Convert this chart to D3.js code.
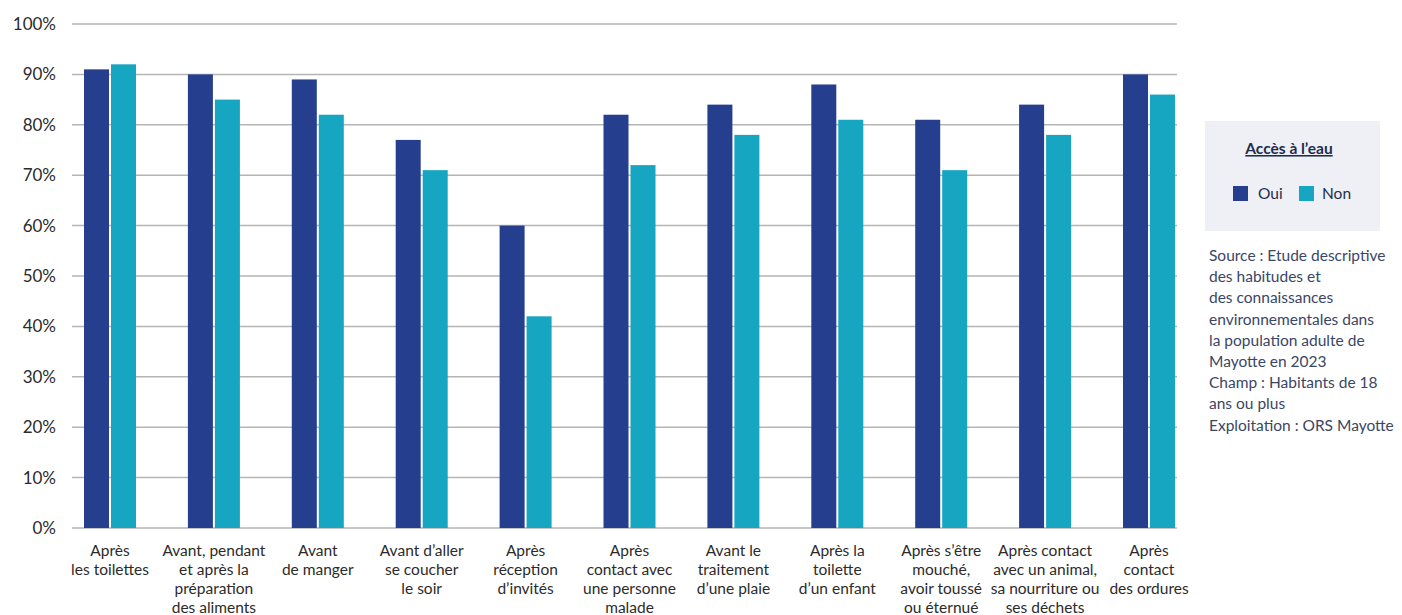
<!DOCTYPE html>
<html>
<head>
<meta charset="utf-8">
<script src="https://cdn.jsdelivr.net/npm/d3@7"></script>
<style>
	body { margin: 0; background: #fff; }
	svg { display: block; font-family: Lato, "Noto Sans", sans-serif; }
</style>
</head>
<body>
<svg width="1402" height="615"></svg>
<script>
// data.........................................................................

var categories = [
	["Après", "les toilettes"],
	["Avant, pendant", "et après la", "préparation", "des aliments"],
	["Avant", "de manger"],
	["Avant d’aller", "se coucher", "le soir"],
	["Après", "réception", "d’invités"],
	["Après", "contact avec", "une personne", "malade"],
	["Avant le", "traitement", "d’une plaie"],
	["Après la", "toilette", "d’un enfant"],
	["Après s’être", "mouché,", "avoir toussé", "ou éternué"],
	["Après contact", "avec un animal,", "sa nourriture ou", "ses déchets"],
	["Après", "contact", "des ordures"]
];
var oui = [91, 90, 89, 77, 60, 82, 84, 88, 81, 84, 90];
var non = [92, 85, 82, 71, 42, 72, 78, 81, 71, 78, 86];
var seriesNames = ["Oui", "Non"];
var yTicks = [0, 10, 20, 30, 40, 50, 60, 70, 80, 90, 100];
var sourceLines = [
	"Source : Etude descriptive",
	"des habitudes et",
	"des connaissances",
	"environnementales dans",
	"la population adulte de",
	"Mayotte en 2023",
	"Champ : Habitants de 18",
	"ans ou plus",
	"Exploitation : ORS Mayotte"
];

// layout.......................................................................

var svg = d3.select("svg"),
	colors = ["#253f8e", "#16a6c1"],
	plotLeft = 72, plotRight = 1177, plotTop = 24, plotBottom = 528,
	barW = 25, barGap = 2;

var x = d3.scalePoint()
	.domain(d3.range(categories.length))
	.range([110, 1149]);

var y = d3.scaleLinear()
	.domain([0, 100])
	.range([plotBottom, plotTop]);

// grid lines
svg.append("g")
	.selectAll("line")
	.data(yTicks)
	.enter().append("line")
		.attr("x1", plotLeft).attr("x2", plotRight)
		.attr("y1", function(d) { return y(d); })
		.attr("y2", function(d) { return y(d); })
		.style("stroke", "#b5b5b5")
		.style("stroke-width", 1.5);

// y tick labels
svg.append("g")
	.selectAll("text")
	.data(yTicks)
	.enter().append("text")
		.attr("x", 56)
		.attr("y", function(d) { return y(d) + 6; })
		.attr("text-anchor", "end")
		.style("font-size", "17px")
		.style("fill", "#2b2b2b")
		.text(function(d) { return d + "%"; });

// bars
var groups = svg.append("g")
	.selectAll("g")
	.data(categories.map(function(c, i) { return [oui[i], non[i]]; }))
	.enter().append("g")
		.attr("transform", function(d, i) { return "translate(" + x(i) + ",0)"; });

groups.selectAll("rect")
	.data(function(d) { return d; })
	.enter().append("rect")
		.attr("x", function(d, j) { return j == 0 ? -barW - barGap / 2 : barGap / 2; })
		.attr("width", barW)
		.attr("y", function(d) { return y(d); })
		.attr("height", function(d) { return plotBottom - y(d); })
		.style("fill", function(d, j) { return colors[j]; });

// category labels
svg.append("g")
	.selectAll("text")
	.data(categories)
	.enter().append("text")
		.attr("text-anchor", "middle")
		.style("font-size", "15.5px")
		.style("fill", "#2b2b2b")
		.each(function(lines, i) {
			d3.select(this).selectAll("tspan")
				.data(lines)
				.enter().append("tspan")
					.attr("x", x(i))
					.attr("y", function(l, k) { return 556 + k * 19; })
					.text(function(l) { return l; });
		});

// legend.......................................................................

var legend = svg.append("g");
legend.append("rect")
	.attr("x", 1205).attr("y", 121)
	.attr("width", 175).attr("height", 110)
	.style("fill", "#eef0f5");
legend.append("text")
	.attr("x", 1289).attr("y", 154)
	.attr("text-anchor", "middle")
	.style("font-size", "15.5px")
	.style("font-weight", "bold")
	.style("fill", "#1f2d4f")
	.style("text-decoration", "underline")
	.text("Accès à l’eau");

var items = legend.selectAll(".item")
	.data(seriesNames)
	.enter().append("g")
		.attr("class", "item")
		.attr("transform", function(d, i) { return "translate(" + (1233 + i * 66) + ",186)"; });
items.append("rect")
	.attr("width", 15).attr("height", 15)
	.style("fill", function(d, i) { return colors[i]; });
items.append("text")
	.attr("x", function(d, i) { return i == 0 ? 25 : 23; })
	.attr("y", 13)
	.style("font-size", "15.5px")
	.style("fill", "#1f2d4f")
	.text(function(d) { return d; });

// source text
svg.append("text")
	.style("font-size", "15.5px")
	.style("fill", "#3a4666")
	.selectAll("tspan")
	.data(sourceLines)
	.enter().append("tspan")
		.attr("x", 1209)
		.attr("y", function(d, i) { return 261 + i * 21.2; })
		.text(function(d) { return d; });
</script>
</body>
</html>
